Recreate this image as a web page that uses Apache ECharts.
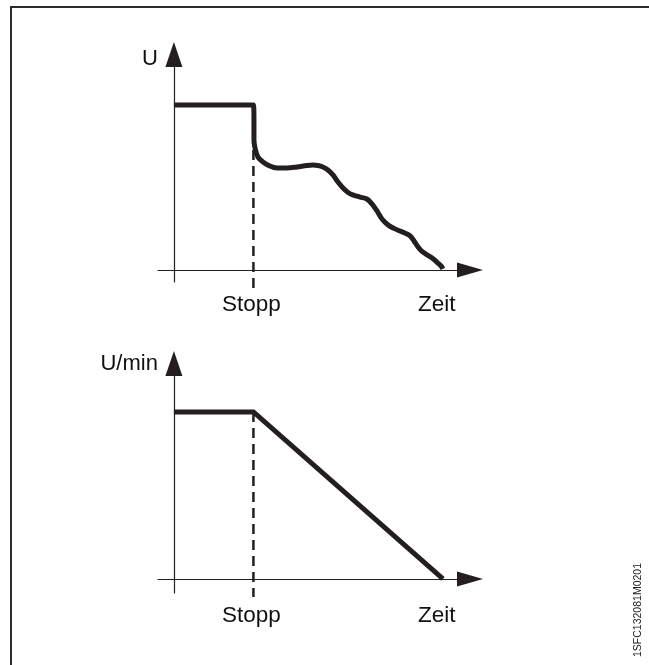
<!DOCTYPE html>
<html>
<head>
<meta charset="utf-8">
<script src="https://cdn.jsdelivr.net/npm/echarts@6/dist/echarts.min.js"></script>
<style>
  html, body { margin: 0; padding: 0; background: #fff; }
  #chart { width: 649px; height: 665px; }
</style>
</head>
<body>
<div id="chart"></div>
<script>
// Time in arbitrary units; the stop command is given at t = 3
const stopTime = 3;

// Terminal voltage U (% of nominal) while the motor coasts down after the stop
const voltageTime = [0, 3, 3.02, 3.02, 3.06, 3.17, 3.36, 3.62, 3.89, 4.26, 4.64, 5.02, 5.25, 5.43, 5.62,
  5.81, 6.0, 6.19, 6.38, 6.57, 6.75, 7.02, 7.28, 7.47, 7.66, 7.85, 8.08, 8.30, 8.53, 8.75,
  8.91, 9.06, 9.21, 9.36, 9.55, 9.74, 9.92, 10.08, 10.15];
const voltageValue = [100, 100, 88, 79, 73.9, 68.5, 65.5, 63, 61.8, 61.8, 62.4, 63.3, 63.6, 63.3, 62.4,
  60.6, 57.6, 53.3, 49.7, 47, 45.5, 44.2, 43, 40, 35.8, 30.9, 27.3, 25.2, 23.6, 22.1,
  20.6, 17.6, 13.9, 11.2, 9.1, 7.3, 4.8, 2.4, 0.6];

// Speed (U/min, % of nominal) during the controlled ramp-down
const speedTime = [0, 3, 10.15];
const speedValue = [100, 100, 0];

// Labels on the time axes
const timeLabelValues = [2.92, 9.92];
const timeLabelTexts = ['Stopp', 'Zeit'];
const voltageAxisName = 'U';
const speedAxisName = 'U/min';
const drawingCode = '1SFC132081M0201';

const ink = '#231f20';
const font = 'Liberation Sans, Arial, sans-serif';

function timeAxis(gridIndex) {
  return {
    type: 'value', gridIndex: gridIndex, min: -0.6, max: 11.17,
    splitLine: { show: false },
    axisTick: { show: false },
    axisLine: {
      show: true, onZero: true,
      symbol: ['none', 'triangle'], symbolSize: [15, 26],
      lineStyle: { color: ink, width: 1.2 }
    },
    axisLabel: {
      show: true,
      customValues: timeLabelValues,
      formatter: function (v) {
        const i = timeLabelValues.indexOf(v);
        return i >= 0 ? timeLabelTexts[i] : '';
      },
      color: '#111', fontFamily: font, fontSize: 22.5, margin: 11
    }
  };
}

function levelAxis(gridIndex, min, max, name, gap) {
  return {
    type: 'value', gridIndex: gridIndex, min: min, max: max,
    splitLine: { show: false },
    axisTick: { show: false },
    axisLabel: { show: false },
    axisLine: {
      show: true, onZero: true,
      symbol: ['none', 'triangle'], symbolSize: [17, 25],
      lineStyle: { color: ink, width: 1.2 }
    },
    name: name, nameLocation: 'end', nameGap: gap,
    nameTextStyle: {
      color: '#111', fontFamily: font, fontSize: 22,
      align: 'right', verticalAlign: 'top', padding: [0, 16, 0, 0]
    }
  };
}

function stopLine(xIdx, from, to) {
  return {
    type: 'line', xAxisIndex: xIdx, yAxisIndex: xIdx,
    data: [[stopTime, from], [stopTime, to]],
    symbol: 'none', clip: false, silent: true, z: 1,
    lineStyle: { color: ink, width: 2.5, type: [10, 6] }
  };
}

const chart = echarts.init(document.getElementById('chart'));
chart.setOption({
  animation: false,
  backgroundColor: '#fff',
  grid: [
    { left: 158, right: 179, top: 54.5, height: 227.5 },
    { left: 158, right: 179, top: 363.5, height: 229.5 }
  ],
  xAxis: [timeAxis(0), timeAxis(1)],
  yAxis: [
    levelAxis(0, -7.3, 130.6, voltageAxisName, 7),
    levelAxis(1, -8.4, 129, speedAxisName, 11)
  ],
  series: [
    stopLine(0, 72.7, -12.1),
    stopLine(1, 100, -10.8),
    {
      type: 'line', xAxisIndex: 0, yAxisIndex: 0,
      data: voltageTime.map((t, i) => [t, voltageValue[i]]),
      smooth: 0.35, symbol: 'none', z: 3,
      lineStyle: { color: ink, width: 5, join: 'miter' }
    },
    {
      type: 'line', xAxisIndex: 1, yAxisIndex: 1,
      data: speedTime.map((t, i) => [t, speedValue[i]]),
      symbol: 'none', z: 3,
      lineStyle: { color: ink, width: 5, join: 'miter' }
    }
  ],
  graphic: [
    {
      type: 'rect', silent: true,
      shape: { x: 11, y: 7, width: 700, height: 700 },
      style: { fill: 'none', stroke: '#2a2a2a', lineWidth: 2 }
    },
    {
      type: 'text', silent: true, x: 638, y: 610, rotation: Math.PI / 2,
      style: { text: drawingCode, fill: '#222', font: '10.5px ' + font, align: 'center', verticalAlign: 'middle' }
    }
  ]
});
</script>
</body>
</html>
